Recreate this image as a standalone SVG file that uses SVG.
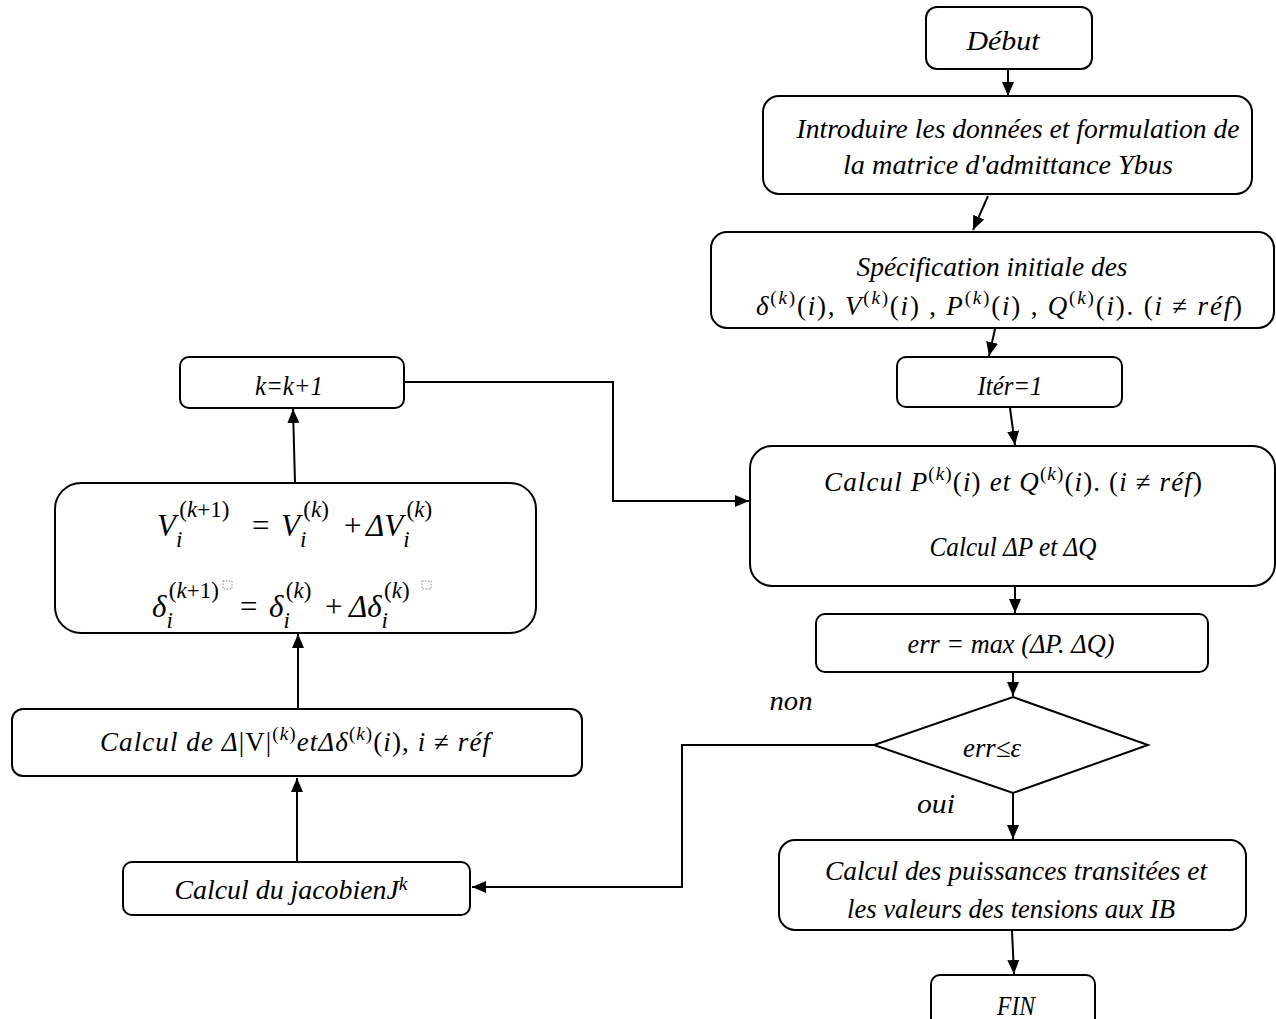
<svg xmlns="http://www.w3.org/2000/svg" width="1276" height="1019" viewBox="0 0 1276 1019">
<style>
.box{fill:#fff;stroke:#000;stroke-width:2}
.t{font-family:"Liberation Serif","DejaVu Serif",serif;font-style:italic;font-size:27px;fill:#000;text-anchor:middle}
.f{font-family:"Liberation Serif","DejaVu Serif",serif;font-style:italic;font-size:31px;fill:#000}
.fs{font-size:23px}
.s{font-size:19px}
.u{font-style:normal}
.i{font-style:italic}
.c{fill:none;stroke:#000;stroke-width:2}
.ph{fill:none;stroke:#888;stroke-width:1;stroke-dasharray:1.5 1.5}
</style>
<defs>
<marker id="ah" markerUnits="userSpaceOnUse" markerWidth="14" markerHeight="14" refX="14" refY="7" orient="auto">
<path d="M0,1 L14,7 L0,13 Z" fill="#000"/>
</marker>
</defs>
<rect width="1276" height="1019" fill="#fff"/>
<g id="connectors">
<line class="c" x1="1008" y1="69" x2="1008" y2="96" marker-end="url(#ah)"/>
<line class="c" x1="988" y1="196" x2="973" y2="230" marker-end="url(#ah)"/>
<line class="c" x1="995" y1="329" x2="989" y2="356" marker-end="url(#ah)"/>
<line class="c" x1="1010" y1="408" x2="1015" y2="445" marker-end="url(#ah)"/>
<line class="c" x1="1015" y1="587" x2="1015" y2="613" marker-end="url(#ah)"/>
<line class="c" x1="1013" y1="672" x2="1013" y2="696" marker-end="url(#ah)"/>
<line class="c" x1="1013" y1="793" x2="1013" y2="839" marker-end="url(#ah)"/>
<line class="c" x1="1012" y1="931" x2="1014" y2="974" marker-end="url(#ah)"/>
<polyline class="c" points="874,745 682,745 682,887 472,887" marker-end="url(#ah)"/>
<line class="c" x1="297" y1="862" x2="297" y2="778" marker-end="url(#ah)"/>
<line class="c" x1="298" y1="709" x2="298" y2="634" marker-end="url(#ah)"/>
<line class="c" x1="295" y1="483" x2="293" y2="409" marker-end="url(#ah)"/>
<polyline class="c" points="404,382 613,382 613,501 749,501" marker-end="url(#ah)"/>
</g>
<g id="debut">
<rect class="box" x="926" y="7" width="166" height="62" rx="11"/>
<text class="t" x="1003" y="50" textLength="73" lengthAdjust="spacingAndGlyphs">Début</text>
</g>
<g id="introduire">
<rect class="box" x="763" y="96" width="489" height="98" rx="16"/>
<text class="t" x="1018" y="138" textLength="443" lengthAdjust="spacingAndGlyphs">Introduire les données et formulation de</text>
<text class="t" x="1008" y="174" textLength="330" lengthAdjust="spacingAndGlyphs">la matrice d'admittance Ybus</text>
</g>
<g id="specification">
<rect class="box" x="711" y="232" width="563" height="96" rx="16"/>
<text class="t" x="992" y="276" textLength="271" lengthAdjust="spacingAndGlyphs">Spécification initiale des</text>
<text class="t" x="999" y="315" textLength="486" lengthAdjust="spacing">δ<tspan class="s u" dy="-11">(<tspan class="i">k</tspan>)</tspan><tspan class="u" dy="11">(</tspan>i<tspan class="u">), </tspan>V<tspan class="s u" dy="-11">(<tspan class="i">k</tspan>)</tspan><tspan class="u" dy="11">(</tspan>i<tspan class="u">) , </tspan>P<tspan class="s u" dy="-11">(<tspan class="i">k</tspan>)</tspan><tspan class="u" dy="11">(</tspan>i<tspan class="u">) , </tspan>Q<tspan class="s u" dy="-11">(<tspan class="i">k</tspan>)</tspan><tspan class="u" dy="11">(</tspan>i<tspan class="u">). (</tspan>i <tspan class="u">≠</tspan> réf<tspan class="u">)</tspan></text>
</g>
<g id="iter">
<rect class="box" x="897" y="357" width="225" height="50" rx="9"/>
<text class="t" x="1010" y="395" textLength="65" lengthAdjust="spacingAndGlyphs">Itér=1</text>
</g>
<g id="calcul-pq">
<rect class="box" x="750" y="446" width="525" height="140" rx="22"/>
<text class="t" x="1013" y="491" textLength="378" lengthAdjust="spacing">Calcul P<tspan class="s u" dy="-11">(<tspan class="i">k</tspan>)</tspan><tspan class="u" dy="11">(</tspan>i<tspan class="u">)</tspan> et Q<tspan class="s u" dy="-11">(<tspan class="i">k</tspan>)</tspan><tspan class="u" dy="11">(</tspan>i<tspan class="u">). (</tspan>i <tspan class="u">≠</tspan> réf<tspan class="u">)</tspan></text>
<text class="t" x="1013" y="556" textLength="167" lengthAdjust="spacingAndGlyphs">Calcul ΔP et ΔQ</text>
</g>
<g id="err">
<rect class="box" x="816" y="614" width="392" height="58" rx="9"/>
<text class="t" x="1011" y="653" textLength="207" lengthAdjust="spacingAndGlyphs">err = max (ΔP. ΔQ)</text>
</g>
<g id="decision">
<polygon class="box" points="1013,697 1148,745 1013,793 874,745"/>
<text class="t" x="992" y="757" textLength="58" lengthAdjust="spacingAndGlyphs">err≤ε</text>
</g>
<text class="t" x="791" y="710" textLength="43" lengthAdjust="spacingAndGlyphs">non</text>
<text class="t" x="936" y="813" textLength="38" lengthAdjust="spacingAndGlyphs">oui</text>
<g id="puissances">
<rect class="box" x="779" y="840" width="467" height="90" rx="16"/>
<text class="t" x="1016" y="880" textLength="382" lengthAdjust="spacingAndGlyphs">Calcul des puissances transitées et</text>
<text class="t" x="1011" y="918" textLength="328" lengthAdjust="spacingAndGlyphs">les valeurs des tensions aux IB</text>
</g>
<g id="fin">
<rect class="box" x="931" y="975" width="164" height="60" rx="9"/>
<text class="t" x="1016" y="1015" textLength="38" lengthAdjust="spacingAndGlyphs">FIN</text>
</g>
<g id="jacobien">
<rect class="box" x="123" y="862" width="347" height="53" rx="9"/>
<text class="t" x="291" y="899" textLength="233" lengthAdjust="spacingAndGlyphs">Calcul du jacobienJ<tspan class="s" dy="-9">k</tspan></text>
</g>
<g id="calcul-de">
<rect class="box" x="12" y="709" width="570" height="67" rx="11"/>
<text class="t" x="295" y="751" textLength="390" lengthAdjust="spacing">Calcul de Δ<tspan class="u">|V|</tspan><tspan class="s u" dy="-11">(<tspan class="i">k</tspan>)</tspan><tspan dy="11">etΔδ</tspan><tspan class="s u" dy="-11">(<tspan class="i">k</tspan>)</tspan><tspan class="u" dy="11">(</tspan>i<tspan class="u">), </tspan>i <tspan class="u">≠</tspan> réf</text>
</g>
<g id="k-increment">
<rect class="box" x="180" y="357" width="224" height="51" rx="9"/>
<text class="t" x="289" y="395" textLength="68" lengthAdjust="spacingAndGlyphs">k=k+1</text>
</g>
<g id="mise-a-jour">
<rect class="box" x="55" y="483" width="481" height="150" rx="26"/>
<text class="f" x="157" y="536">V<tspan class="fs" dy="11">i</tspan><tspan class="fs u" dx="-3" dy="-30">(<tspan class="i">k</tspan>+1)</tspan></text>
<text class="f u" x="252" y="536">=</text>
<text class="f" x="281" y="536">V<tspan class="fs" dy="11">i</tspan><tspan class="fs u" dx="-3" dy="-30">(<tspan class="i">k</tspan>)</tspan></text>
<text class="f u" x="344" y="536">+</text>
<text class="f" x="366" y="536">ΔV<tspan class="fs" dy="11">i</tspan><tspan class="fs u" dx="-3" dy="-30">(<tspan class="i">k</tspan>)</tspan></text>
<text class="f" x="152" y="617">δ<tspan class="fs" dy="11">i</tspan><tspan class="fs u" dx="-4" dy="-30">(<tspan class="i">k</tspan>+1)</tspan></text>
<rect class="ph" x="223" y="581" width="9" height="8"/>
<text class="f u" x="240" y="617">=</text>
<text class="f" x="269" y="617">δ<tspan class="fs" dy="11">i</tspan><tspan class="fs u" dx="-4" dy="-30">(<tspan class="i">k</tspan>)</tspan></text>
<text class="f u" x="325" y="617">+</text>
<text class="f" x="349" y="617">Δδ<tspan class="fs" dy="11">i</tspan><tspan class="fs u" dx="-4" dy="-30">(<tspan class="i">k</tspan>)</tspan></text>
<rect class="ph" x="422" y="581" width="9" height="8"/>
</g>
</svg>
